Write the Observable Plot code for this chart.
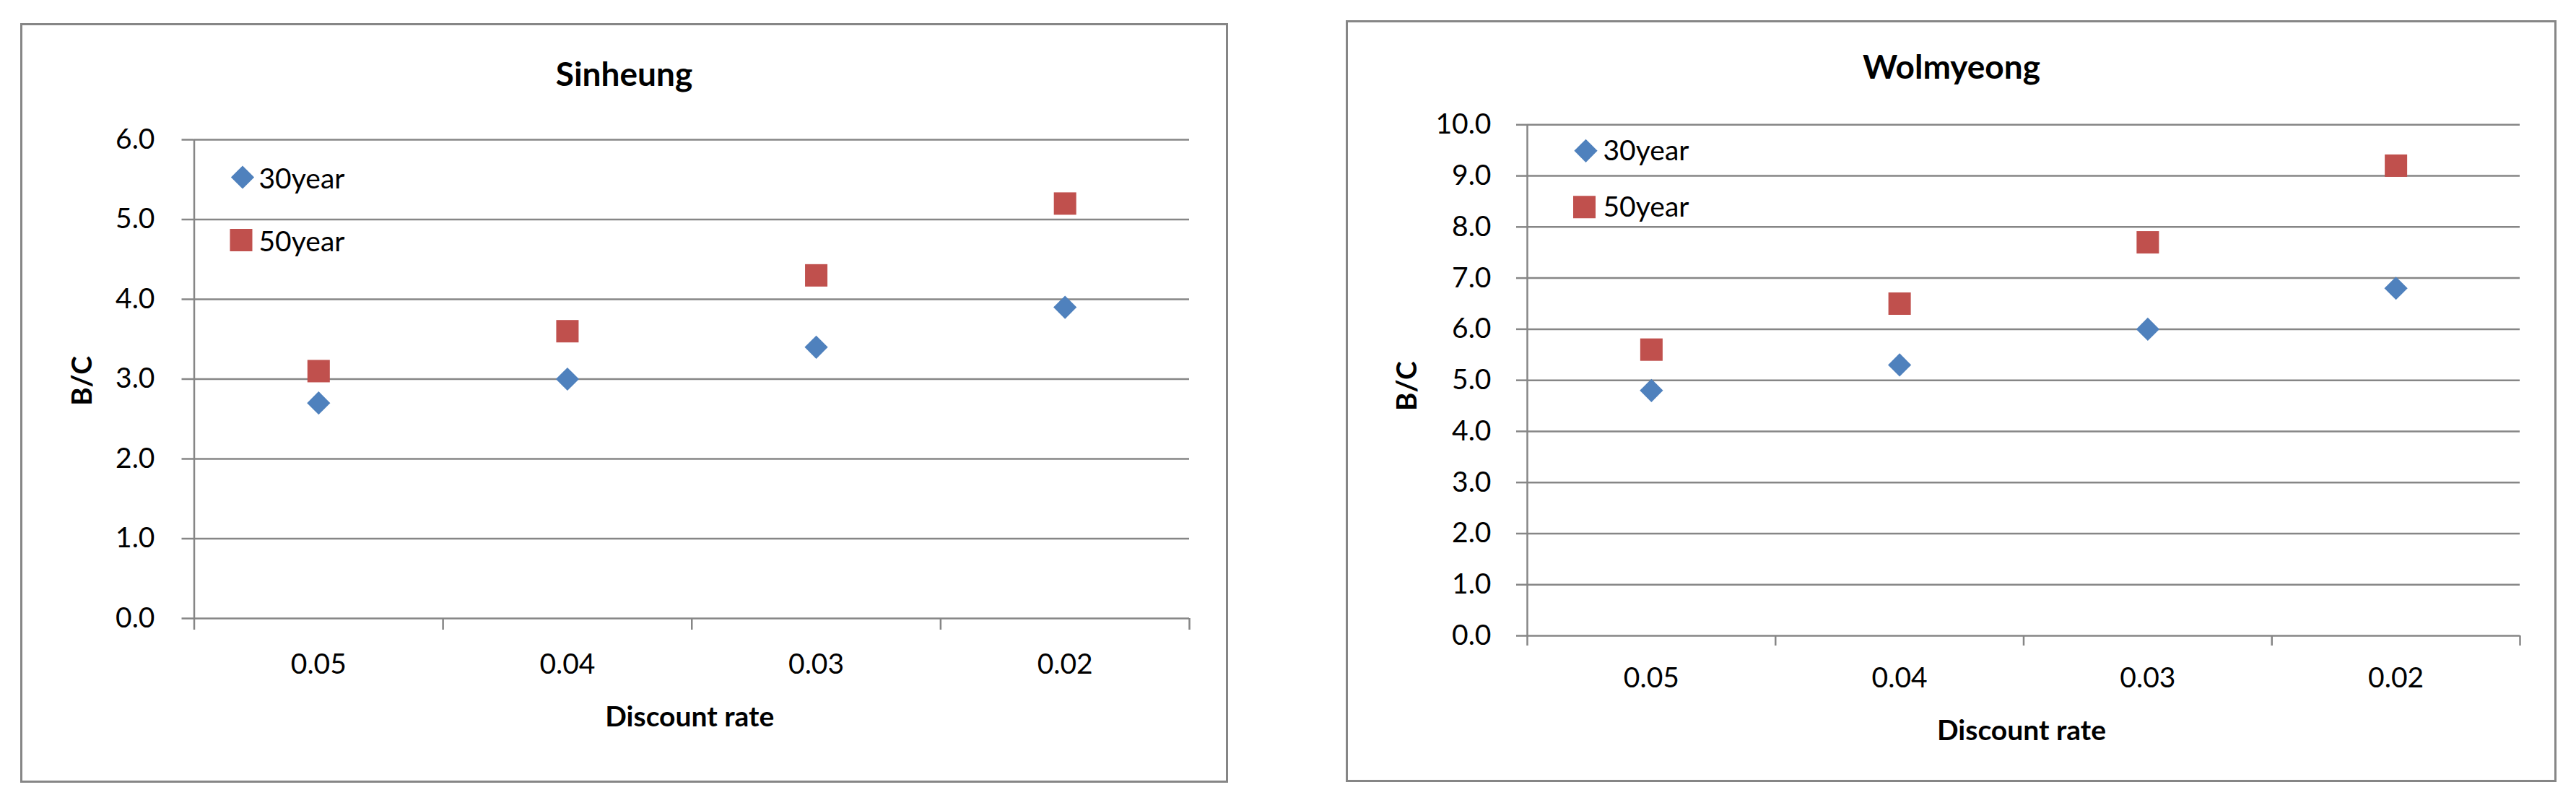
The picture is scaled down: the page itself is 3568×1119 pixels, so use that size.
<!DOCTYPE html>
<html>
<head>
<meta charset="utf-8">
<script src="https://cdn.jsdelivr.net/npm/d3@7"></script>
<script src="https://cdn.jsdelivr.net/npm/@observablehq/plot@0.6"></script>
<style>
  html, body { margin: 0; padding: 0; background: #fff; overflow: hidden; }
  #page { position: relative; width: 3568px; height: 1119px; font-family: Lato, sans-serif; }
  .panel { position: absolute; top: 0; }
  .box { position: absolute; box-sizing: border-box; border: 3px solid #868686; pointer-events: none; }
</style>
</head>
<body>
<div id="page"></div>
<script>
// ---- data ----
const categories = ["0.05", "0.04", "0.03", "0.02"];
const seriesNames = ["30year", "50year"];
const sinheung30 = [2.7, 3.0, 3.4, 3.9];
const sinheung50 = [3.1, 3.6, 4.3, 5.2];
const wolmyeong30 = [4.8, 5.3, 6.0, 6.8];
const wolmyeong50 = [5.6, 6.5, 7.7, 9.2];
const sinheungTicks = [0, 1, 2, 3, 4, 5, 6];
const wolmyeongTicks = [0, 1, 2, 3, 4, 5, 6, 7, 8, 9, 10];
const chartTitles = ["Sinheung", "Wolmyeong"];
const xTitle = "Discount rate";
const yTitle = "B/C";

// ---- style ----
const BLUE = "#4F81BD";
const RED = "#C0504D";
const GRID = "#868686";
const FONT = "Lato, sans-serif";

function chart(title, v30, v50, ticks, L) {
  const rows = (vals) => categories.map((c, i) => ({pos: i + 1, cat: c, value: vals[i]}));
  const catRows = rows(v30);
  const bounds = d3.range(categories.length + 1).map((i) => i + 0.5);
  const T = {lineAnchor: "middle", fill: "#000", fontSize: 39};
  return Plot.plot({
    width: L.width,
    height: L.height,
    marginLeft: L.ml,
    marginRight: L.mr,
    marginTop: L.mt,
    marginBottom: L.mb,
    style: {background: "transparent", maxWidth: "none", fontFamily: FONT, overflow: "visible", color: "#000"},
    x: {domain: [0.5, categories.length + 0.5], axis: null},
    y: {domain: [0, d3.max(ticks)], axis: null},
    marks: [
      Plot.gridY(ticks, {stroke: GRID, strokeOpacity: 1, strokeWidth: 2.5}),
      Plot.axisY(ticks, {
        tickSize: L.ytick, tickPadding: L.ypad, tickFormat: d3.format(".1f"),
        stroke: GRID, strokeWidth: 2.5, fill: "#000", fontSize: 39, label: null
      }),
      Plot.ruleX([0.5], {stroke: GRID, strokeWidth: 2.5}),
      Plot.ruleX(bounds, {y1: 0, y2: 0, insetBottom: -L.xtick, stroke: GRID, strokeWidth: 2.5}),
      Plot.text(catRows, {...T, x: "pos", text: "cat", frameAnchor: "bottom", dy: L.catDy, textAnchor: "middle"}),
      Plot.text([xTitle], {...T, frameAnchor: "bottom", dy: L.xTitleDy, dx: -3, textAnchor: "middle", fontWeight: "bold"}),
      Plot.text([yTitle], {...T, frameAnchor: "left", dx: L.yTitleDx, dy: L.yTitleDy, rotate: -90, textAnchor: "middle", fontWeight: "bold"}),
      Plot.text([title], {...T, frameAnchor: "top", dx: L.titleDx, dy: L.titleDy, textAnchor: "middle", fontSize: 46, fontWeight: "bold"}),
      // legend
      Plot.dot([seriesNames[0]], {frameAnchor: "top-left", dx: L.lgDx, dy: L.lg1Dy, symbol: "diamond2", fill: BLUE, r: 14.5}),
      Plot.text([seriesNames[0]], {...T, frameAnchor: "top-left", dx: L.lgTextDx, dy: L.lg1TextDy, textAnchor: "start"}),
      Plot.dot([seriesNames[1]], {frameAnchor: "top-left", dx: L.lgDx - 2, dy: L.lg2Dy, symbol: "square", fill: RED, r: 17.5}),
      Plot.text([seriesNames[1]], {...T, frameAnchor: "top-left", dx: L.lgTextDx, dy: L.lg2TextDy, textAnchor: "start"}),
      // data
      Plot.dot(rows(v30), {x: "pos", y: "value", symbol: "diamond2", fill: BLUE, r: 14.5}),
      Plot.dot(rows(v50), {x: "pos", y: "value", symbol: "square", fill: RED, r: 17.5})
    ]
  });
}

const page = document.getElementById("page");

function addPanel(svg, left) {
  const d = document.createElement("div");
  d.className = "panel";
  d.style.left = left + "px";
  d.appendChild(svg);
  page.appendChild(d);
}
function addBox(left, top, w, h) {
  const b = document.createElement("div");
  b.className = "box";
  Object.assign(b.style, {left: left + "px", top: top + "px", width: w + "px", height: h + "px"});
  page.appendChild(b);
}

addPanel(chart(chartTitles[0], sinheung30, sinheung50, sinheungTicks, {
  width: 1784, height: 1119, ml: 268.5, mr: 137, mt: 193, mb: 263,
  ytick: 17, ypad: 37.5, xtick: 16, catDy: 64.5, xTitleDy: 137.5,
  yTitleDx: -154.5, yTitleDy: 2.5, titleDx: -93.75, titleDy: -89.5,
  lgDx: 67, lg1Dy: 52, lg2Dy: 139, lgTextDx: 89.5, lg1TextDy: 55.5, lg2TextDy: 142.5
}), 0);

addPanel(chart(chartTitles[1], wolmyeong30, wolmyeong50, wolmyeongTicks, {
  width: 1784, height: 1119, ml: 331, mr: 78, mt: 172.3, mb: 239,
  ytick: 15, ypad: 35, xtick: 14, catDy: 59, xTitleDy: 132.5,
  yTitleDx: -166, yTitleDy: 8, titleDx: -100, titleDy: -79,
  lgDx: 81, lg1Dy: 36, lg2Dy: 114, lgTextDx: 105, lg1TextDy: 37, lg2TextDy: 115.2
}), 1784);

addBox(27.5, 32, 1673, 1051.5);
addBox(1864, 28.3, 1677.3, 1055);
</script>
</body>
</html>
